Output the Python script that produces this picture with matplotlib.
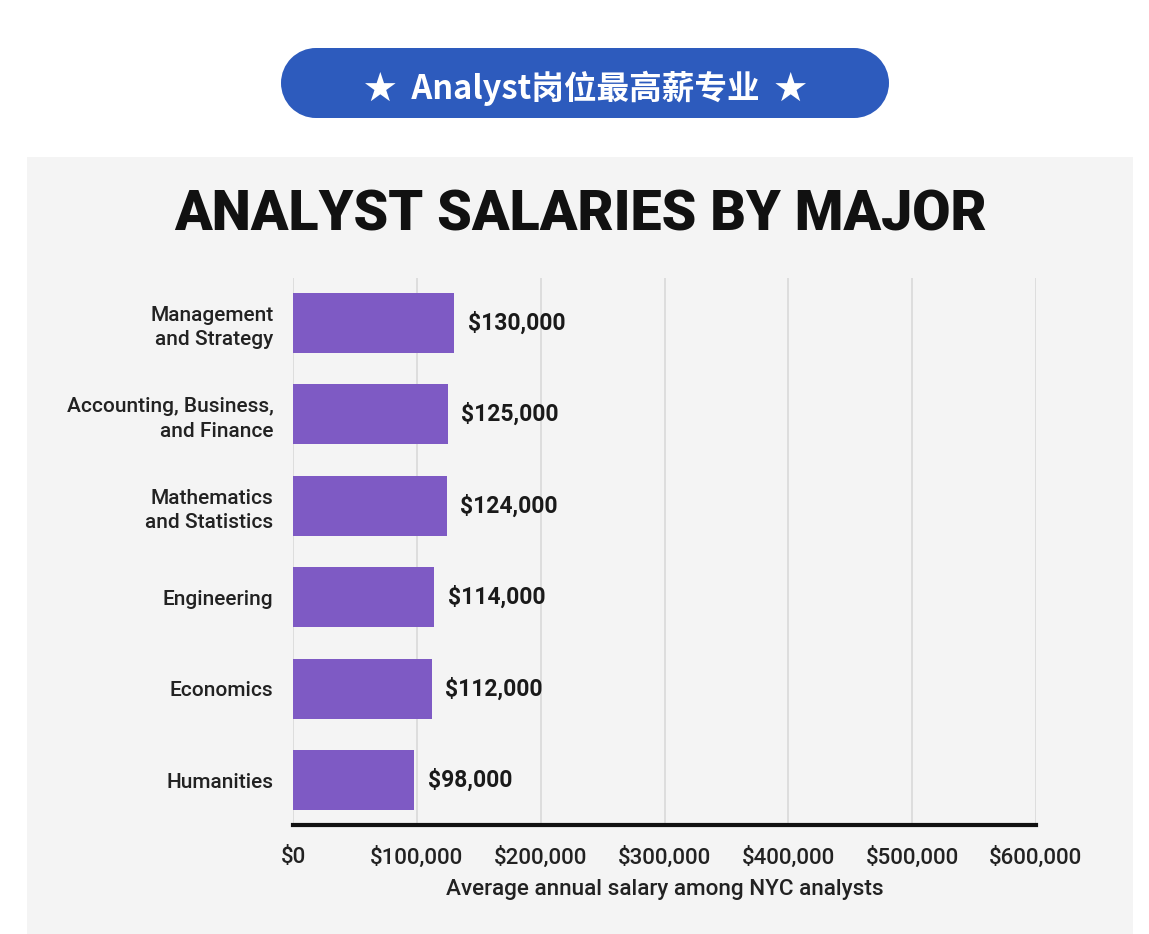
import matplotlib.pyplot as plt
from matplotlib.patches import Circle, Rectangle
from matplotlib.ticker import FuncFormatter

# data
majors = [
    "Management\nand Strategy",
    "Accounting, Business,\nand Finance",
    "Mathematics\nand Statistics",
    "Engineering",
    "Economics",
    "Humanities",
]
salaries = [130000, 125000, 124000, 114000, 112000, 98000]
x_ticks = [0, 100000, 200000, 300000, 400000, 500000, 600000]

W, H = 1149, 934
fig = plt.figure(figsize=(W / 100, H / 100), dpi=100)
fig.patch.set_facecolor("white")

# background layer in pixel coordinates
bg = fig.add_axes([0, 0, 1, 1], zorder=0)
bg.set_xlim(0, W)
bg.set_ylim(H, 0)
bg.axis("off")

# blue pill header
pill = "#2d5bbd"
bg.add_patch(Rectangle((316, 48), 538, 70, fc=pill, ec="none"))
bg.add_patch(Circle((316, 83), 35, fc=pill, ec="none"))
bg.add_patch(Circle((854, 83), 35, fc=pill, ec="none"))
bg.text(585, 88, "★  Analyst岗位最高薪专业  ★", color="white", fontsize=23.5,
        fontweight="bold", ha="center", va="center",
        family=["Noto Sans CJK SC", "DejaVu Sans"])

# light grey panel
bg.add_patch(Rectangle((27, 157), 1106, 777, fc="#f4f4f4", ec="none"))
bg.text(580, 215, "ANALYST SALARIES BY MAJOR", fontsize=40, fontweight="black",
        family="Roboto", ha="center", va="center", color="#111111")

# main chart
ax = fig.add_axes([293 / W, 1 - 825 / H, (1036 - 293) / W, (825 - 278) / H], zorder=1)
ax.set_facecolor("none")

ypos = list(range(len(majors)))
ax.barh(ypos, salaries, height=0.66, color="#7e5ac4", zorder=3)
for y, v in zip(ypos, salaries):
    ax.text(v + 11000, y, f"${v:,}", va="center", ha="left", fontsize=16.5,
            fontweight="bold", family="Roboto", color="#1a1a1a")

ax.set_xlim(0, 600000)
ax.set_ylim(5.49, -0.49)
ax.set_xticks(x_ticks)
ax.xaxis.set_major_formatter(FuncFormatter(lambda v, p: f"${int(v):,}"))
ax.set_yticks(ypos)
ax.set_yticklabels(majors, fontsize=15, family="Roboto", fontweight="medium",
                   color="#222222", linespacing=1.35)
for lab in ax.get_xticklabels():
    lab.set_fontsize(16)
    lab.set_family("Roboto")
    lab.set_fontweight("medium")
    lab.set_color("#222222")

ax.grid(axis="x", color="#d9d9d9", linewidth=1.2, zorder=0)
ax.tick_params(axis="both", length=0)
ax.tick_params(axis="x", pad=16)
ax.tick_params(axis="y", pad=14)
for s in ["top", "right", "left"]:
    ax.spines[s].set_visible(False)
ax.spines["bottom"].set_linewidth(3)
ax.spines["bottom"].set_color("#111111")

ax.set_xlabel("Average annual salary among NYC analysts", fontsize=16.2,
              family="Roboto", fontweight="medium", color="#222222", labelpad=7)

fig.savefig("out.png", dpi=100, facecolor=fig.get_facecolor())
